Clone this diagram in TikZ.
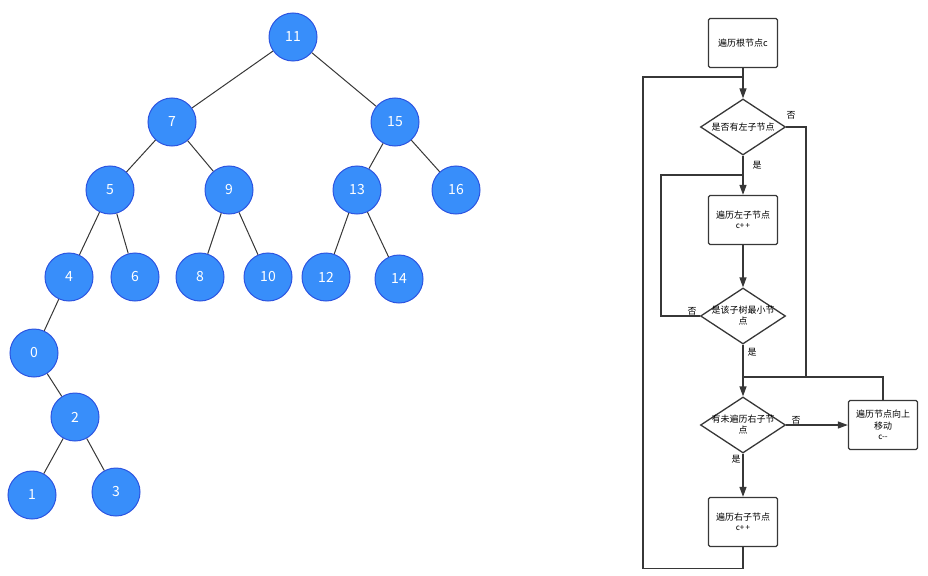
\documentclass[tikz,border=0pt]{standalone}
\usepackage{fontspec}
\setmainfont{Noto Sans CJK SC}
\usetikzlibrary{shapes.geometric,arrows.meta}
\definecolor{nodefill}{RGB}{56,142,250}
\definecolor{nodeedge}{RGB}{45,85,225}
\definecolor{linegray}{RGB}{55,55,55}
\tikzset{
  treenode/.style={circle,draw=nodeedge,fill=nodefill,line width=1pt,minimum size=48pt,
    inner sep=0pt,text=white,font=\fontsize{14}{16}\selectfont},
  treeedge/.style={draw=linegray,line width=1pt},
  stepbox/.style={rectangle,draw=linegray,line width=1.3pt,rounded corners=1.5pt,
    minimum width=69pt,minimum height=49pt,align=center,font=\fontsize{9}{12}\selectfont},
  askbox/.style={diamond,draw=linegray,line width=1.3pt,aspect=1.52,inner xsep=-5pt,inner ysep=0pt,
    minimum width=85pt,minimum height=56pt,align=center,font=\fontsize{9}{11}\selectfont},
  flow/.style={draw=linegray,line width=1.3pt},
  flowarrow/.style={flow,-{Triangle[length=10pt,width=7pt]}},
  answer/.style={font=\fontsize{9}{11}\selectfont}
}
\begin{document}
\begin{tikzpicture}[x=1pt,y=-1pt]
\useasboundingbox (0,0) rectangle (928,575);

% the tree
\node[treenode] (n11) at (293,37) {11};
\node[treenode] (n7) at (172,122) {7};
\node[treenode] (n15) at (395,122) {15};
\node[treenode] (n5) at (110,190) {5};
\node[treenode] (n9) at (229,190) {9};
\node[treenode] (n13) at (357,190) {13};
\node[treenode] (n16) at (456,190) {16};
\node[treenode] (n4) at (69,277) {4};
\node[treenode] (n6) at (135,277) {6};
\node[treenode] (n8) at (200,277) {8};
\node[treenode] (n10) at (268,277) {10};
\node[treenode] (n12) at (326,277) {12};
\node[treenode] (n14) at (399,279) {14};
\node[treenode] (n0) at (34,353) {0};
\node[treenode] (n2) at (75,417) {2};
\node[treenode] (n1) at (32,495) {1};
\node[treenode] (n3) at (116,492) {3};

\draw[treeedge] (n11) -- (n7);
\draw[treeedge] (n11) -- (n15);
\draw[treeedge] (n7) -- (n5);
\draw[treeedge] (n7) -- (n9);
\draw[treeedge] (n15) -- (n13);
\draw[treeedge] (n15) -- (n16);
\draw[treeedge] (n5) -- (n4);
\draw[treeedge] (n5) -- (n6);
\draw[treeedge] (n9) -- (n8);
\draw[treeedge] (n9) -- (n10);
\draw[treeedge] (n13) -- (n12);
\draw[treeedge] (n13) -- (n14);
\draw[treeedge] (n4) -- (n0);
\draw[treeedge] (n0) -- (n2);
\draw[treeedge] (n2) -- (n1);
\draw[treeedge] (n2) -- (n3);

% the flow chart
\node[stepbox] (root) at (743,43) {遍历根节点c};
\node[askbox] (hasleft) at (743,127) {是否有左子节点};
\node[stepbox] (goleft) at (743,220) {遍历左子节点\\[-2pt]{\fontsize{8}{9}\selectfont c+\,+}};
\node[askbox] (isleast) at (743,316) {是该子树最小节\\点};
\node[askbox] (hasright) at (743,425) {有未遍历右子节\\点};
\node[stepbox] (goup) at (883,425) {遍历节点向上\\移动\\[-2pt]{\fontsize{8}{9}\selectfont c{-}{-}}};
\node[stepbox] (goright) at (743,522) {遍历右子节点\\[-2pt]{\fontsize{8}{9}\selectfont c+\,+}};

\coordinate (jtop) at (743,77);
\coordinate (jmid) at (743,175);
\coordinate (jlow) at (743,377);
\coordinate (nojoin) at (806,377);

\draw[flowarrow] (root) -- (hasleft);
\draw[flowarrow] (hasleft) -- (goleft);
\draw[flowarrow] (goleft) -- (isleast);
\draw[flowarrow] (isleast) -- (hasright);
\draw[flowarrow] (hasright) -- (goright);
\draw[flowarrow] (hasright.east) -- (goup.west);
\draw[flow] (hasleft.east) -| (nojoin) -- (jlow);
\draw[flow] (goup.north) |- (jlow);
\draw[flow] (isleast.west) -- ++(-39,0) |- (jmid);
\draw[flow] (goright.south) -- ++(0,21) -| ([xshift=-100pt]jtop) -- (jtop);

\node[answer] at (791,115) {否};
\node[answer] at (757,165) {是};
\node[answer] at (692,311) {否};
\node[answer] at (752,352) {是};
\node[answer] at (796,420) {否};
\node[answer] at (736,459) {是};
\end{tikzpicture}
\end{document}
